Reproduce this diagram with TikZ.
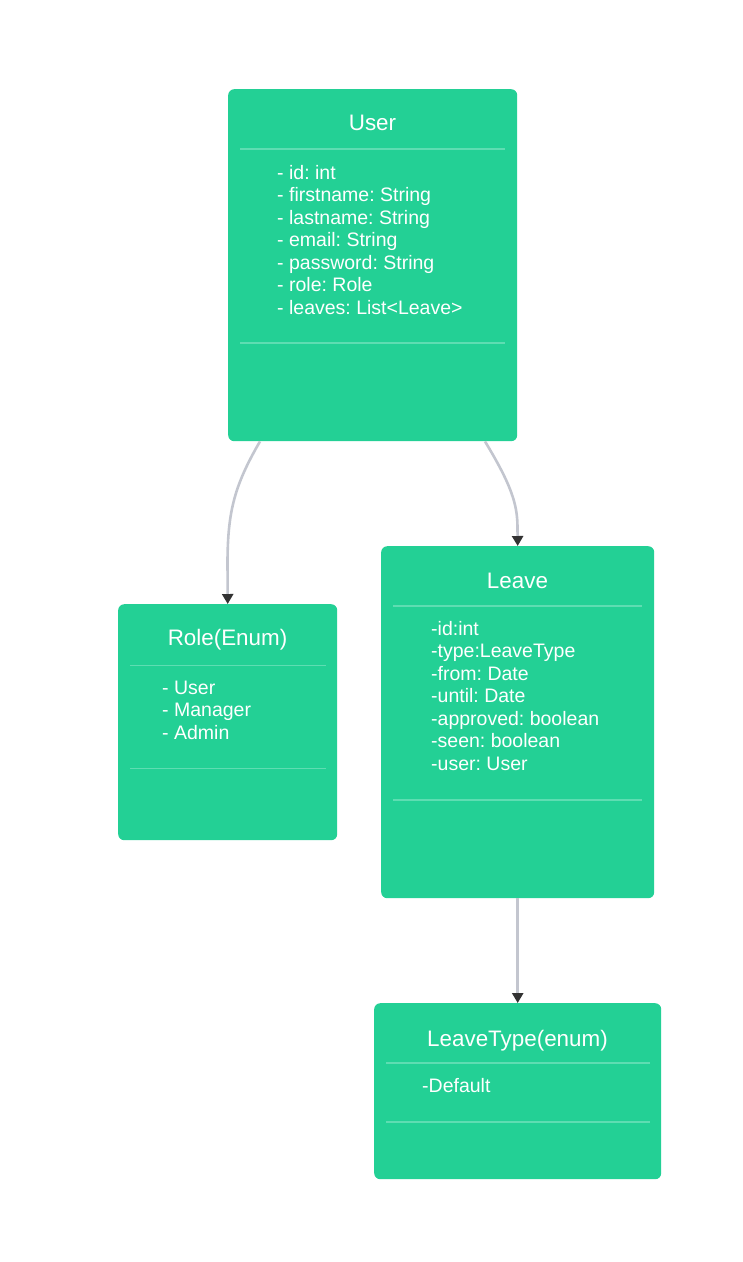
\documentclass[tikz,border=0pt]{standalone}
\usepackage{fontspec}
\setmainfont{Liberation Sans}
\usetikzlibrary{calc,arrows.meta}
\definecolor{boxgreen}{HTML}{23D095}
\definecolor{divgreen}{HTML}{5EDDB2}
\definecolor{edgegray}{HTML}{C3C6CF}
\definecolor{tipdark}{HTML}{333333}
\frenchspacing
\tikzset{
  classbox/.style={rectangle, rounded corners=6pt, fill=boxgreen, draw=none, anchor=north west, inner sep=0pt},
  ctitle/.style={anchor=base, text=white, inner sep=0pt, font=\fontsize{22.4}{27}\selectfont},
  attr/.style={anchor=base west, text=white, inner sep=0pt, font=\fontsize{19.5}{22.5}\selectfont\frenchspacing},
  divline/.style={draw=divgreen, line width=1.2pt},
  edge/.style={draw=edgegray, line width=2.6pt, -{Triangle[length=10pt,width=11pt,color=tipdark]}}
}
\begin{document}
\begin{tikzpicture}[x=1pt,y=-1pt]
\useasboundingbox (0,0) rectangle (743,1262);
% boxes
\node[classbox, minimum width=289, minimum height=352] (user) at (228,89) {};
\node[classbox, minimum width=219, minimum height=236] (role) at (118,604) {};
\node[classbox, minimum width=273, minimum height=352] (leave) at (381,546) {};
\node[classbox, minimum width=287, minimum height=176] (leavetype) at (374,1003) {};
% dividers
\draw[divline] (240,149) -- (505,149);
\draw[divline] (240,343) -- (505,343);
\draw[divline] (130,665.5) -- (326,665.5);
\draw[divline] (130,768.5) -- (326,768.5);
\draw[divline] (393,606) -- (642,606);
\draw[divline] (393,800) -- (642,800);
\draw[divline] (386,1063) -- (650,1063);
\draw[divline] (386,1122) -- (650,1122);
% titles
\node[ctitle] (usert) at (372.5,130.7) {User};
\node[ctitle] (rolet) at (227.5,645.7) {Role(Enum)};
\node[ctitle] (leavet) at (517.5,588.7) {Leave};
\node[ctitle] (leavetypet) at (517.5,1046.2) {LeaveType(enum)};
% attributes
\foreach \t [count=\i from 0] in {- id: int,- firstname: String,- lastname: String,- email: String,- password: String,- role: Role,- leaves: List<Leave>}
  \node[attr] (ua\i) at (277,179.3+22.5*\i) {\t};
\foreach \t [count=\i from 0] in {- User,- Manager,- Admin}
  \node[attr] (ra\i) at (162,694+22.5*\i) {\t};
\foreach \t [count=\i from 0] in {-id:int,-type:LeaveType,-from: Date,-until: Date,-approved: boolean,-seen: boolean,-user: User}
  \node[attr] (la\i) at (431,635.3+22.5*\i) {\t};
\node[attr] (lta0) at (422,1092.3) {-Default};
% connectors
\draw[edge] ($(user.south west)+(32,0)$) .. controls (234,486) and (228,512) .. (227.5,560) -- (role.north);
\draw[edge] ($(user.south west)+(257,0)$) .. controls (512,486) and (517.5,505) .. (517.5,528) -- (leave.north);
\draw[edge] (leave.south) -- (leavetype.north);
\end{tikzpicture}
\end{document}
